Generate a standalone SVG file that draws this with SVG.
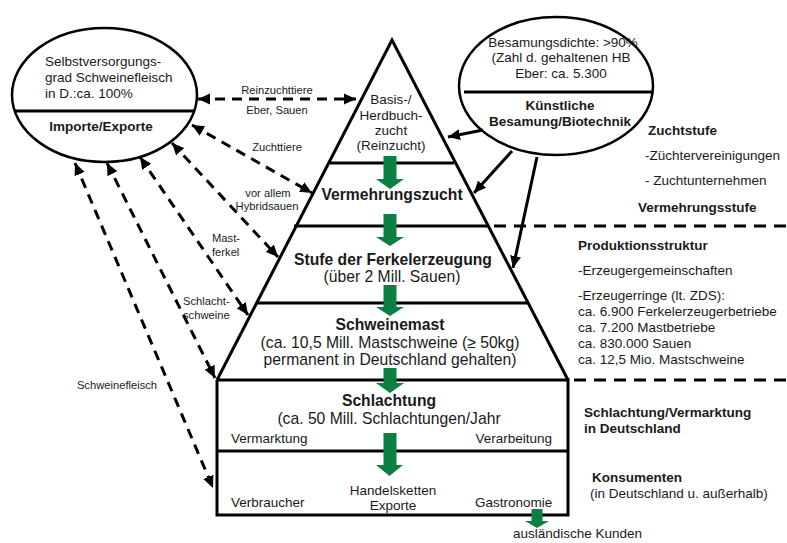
<svg xmlns="http://www.w3.org/2000/svg" width="787" height="543" viewBox="0 0 787 543">
<style>
text{font-family:"Liberation Sans",Arial,sans-serif;fill:#1a1a1a}
.m{font-size:15.7px}
.mb{font-size:15.7px;font-weight:bold}
.s{font-size:13.5px}
.sb{font-size:13.5px;font-weight:bold}
.xs{font-size:11.2px}
.c{text-anchor:middle}
.ln{stroke:#000;stroke-width:3;fill:none}
.el{stroke:#000;stroke-width:2.5;fill:#fff}
.dash{stroke:#000;stroke-width:3;fill:none;stroke-dasharray:10 7}
.sep{stroke:#000;stroke-width:3;fill:none;stroke-dasharray:12 8}
.sol{stroke:#000;stroke-width:3;fill:none}
.g{fill:#0a8043}
</style>
<defs>
<marker id="ah" markerUnits="userSpaceOnUse" markerWidth="14" markerHeight="14" viewBox="0 0 14 14" refX="12" refY="7" orient="auto-start-reverse">
<path d="M0,1.5 L12,7 L0,12.5 Z" fill="#000"/>
</marker>
</defs>
<rect width="787" height="543" fill="#fff"/>

<g id="pyramid">
<polyline class="ln" points="217,380 392,40 568,380"/>
<line class="ln" x1="330" y1="163" x2="454" y2="163"/>
<line class="ln" x1="294" y1="226" x2="489" y2="226"/>
<line class="ln" x1="256" y1="303" x2="528" y2="303"/>
<polyline class="ln" points="217,380 217,515 568,515 568,380 217,380"/>
<line class="ln" x1="217" y1="451" x2="568" y2="451"/>
</g>

<g id="separators">
<line class="sep" x1="494" y1="226" x2="787" y2="226"/>
<line class="sep" x1="574" y1="380" x2="787" y2="380"/>
</g>

<g id="green-arrows">
<polygon class="g" points="383.5,156 396.5,156 396.5,179 404,179 390,189 376,179 383.5,179"/>
<polygon class="g" points="383.5,214 396.5,214 396.5,237 404,237 390,246 376,237 383.5,237"/>
<polygon class="g" points="383.5,285 396.5,285 396.5,307 404,307 390,316 376,307 383.5,307"/>
<polygon class="g" points="383.5,368 396.5,368 396.5,383 404,383 390,393 376,383 383.5,383"/>
<polygon class="g" points="383.5,433 396.5,433 396.5,465 403,465 389.5,476 376,465 383.5,465"/>
<polygon class="g" points="531.5,509 542.5,509 542.5,521 549,521 537,528 525,521 531.5,521"/>
</g>

<g id="node-selbstversorgung">
<ellipse class="el" cx="104.5" cy="95" rx="92.5" ry="67"/>
<line class="sol" x1="15" y1="111" x2="194" y2="111" stroke-width="2.5"/>
<text class="s" x="45" y="66">Selbstversorgungs-</text>
<text class="s" x="45" y="82">grad Schweinefleisch</text>
<text class="s" x="45" y="98">in D.:ca. 100%</text>
<text class="sb c" x="101" y="131">Importe/Exporte</text>
</g>

<g id="node-besamung">
<ellipse class="el" cx="556" cy="86" rx="97" ry="69"/>
<line class="sol" x1="464" y1="92" x2="652" y2="92" stroke-width="2.5"/>
<text class="s c" x="563" y="47">Besamungsdichte: &gt;90%</text>
<text class="s c" x="561" y="62">(Zahl d. gehaltenen HB</text>
<text class="s c" x="561" y="78">Eber: ca. 5.300</text>
<text class="sb c" x="560" y="110">Künstliche</text>
<text class="sb c" x="560" y="126">Besamung/Biotechnik</text>
</g>

<g id="pyramid-texts">
<text class="s c" x="391" y="104">Basis-/</text>
<text class="s c" x="391" y="120">Herdbuch-</text>
<text class="s c" x="391" y="135">zucht</text>
<text class="s c" x="391" y="150">(Reinzucht)</text>
<text class="mb c" x="392" y="200">Vermehrungszucht</text>
<text class="mb c" x="393" y="265">Stufe der Ferkelerzeugung</text>
<text class="m c" x="392" y="282">(über 2 Mill. Sauen)</text>
<text class="mb c" x="390" y="330">Schweinemast</text>
<text class="m c" x="390" y="348">(ca. 10,5 Mill. Mastschweine (≥ 50kg)</text>
<text class="m c" x="390" y="365">permanent in Deutschland gehalten)</text>
<text class="mb c" x="389" y="406">Schlachtung</text>
<text class="m c" x="389" y="424">(ca. 50 Mill. Schlachtungen/Jahr</text>
<text class="s" x="231" y="443">Vermarktung</text>
<text class="s" x="552" y="443" text-anchor="end">Verarbeitung</text>
<text class="s" x="231" y="507">Verbraucher</text>
<text class="s c" x="393" y="495">Handelsketten</text>
<text class="s c" x="393" y="510">Exporte</text>
<text class="s" x="475" y="507">Gastronomie</text>
<text class="s" x="513" y="538">ausländische Kunden</text>
</g>

<g id="side-texts">
<text class="sb" x="648" y="135">Zuchtstufe</text>
<text class="s" x="645" y="160">-Züchtervereinigungen</text>
<text class="s" x="645" y="185">- Zuchtunternehmen</text>
<text class="sb" x="638" y="212">Vermehrungsstufe</text>
<text class="sb" x="578" y="250">Produktionsstruktur</text>
<text class="s" x="578" y="275">-Erzeugergemeinschaften</text>
<text class="s" x="578" y="300">-Erzeugerringe (lt. ZDS):</text>
<text class="s" x="578" y="316">ca. 6.900 Ferkelerzeugerbetriebe</text>
<text class="s" x="578" y="332">ca. 7.200 Mastbetriebe</text>
<text class="s" x="578" y="348">ca. 830.000 Sauen</text>
<text class="s" x="578" y="364">ca. 12,5 Mio. Mastschweine</text>
<text class="sb" x="584" y="417">Schlachtung/Vermarktung</text>
<text class="sb" x="584" y="433">in Deutschland</text>
<text class="sb" x="592" y="482">Konsumenten</text>
<text class="s" x="590" y="498">(in Deutschland u. außerhalb)</text>
</g>

<g id="connectors">
<line class="dash" x1="198" y1="99" x2="356" y2="99" marker-start="url(#ah)" marker-end="url(#ah)"/>
<line class="dash" x1="192" y1="125" x2="312" y2="193" marker-start="url(#ah)" marker-end="url(#ah)"/>
<line class="dash" x1="172" y1="143" x2="278" y2="257" marker-start="url(#ah)" marker-end="url(#ah)"/>
<line class="dash" x1="140" y1="157" x2="248" y2="315" marker-start="url(#ah)" marker-end="url(#ah)"/>
<line class="dash" x1="107" y1="163" x2="215" y2="378" marker-start="url(#ah)" marker-end="url(#ah)"/>
<line class="dash" x1="75" y1="163" x2="213" y2="488" marker-start="url(#ah)" marker-end="url(#ah)"/>
<line class="sol" x1="483" y1="130" x2="448" y2="137" marker-end="url(#ah)"/>
<line class="sol" x1="512" y1="151" x2="474" y2="193" marker-end="url(#ah)"/>
<line class="sol" x1="537" y1="157" x2="513" y2="268" marker-end="url(#ah)"/>
</g>

<g id="connector-labels">
<text class="xs c" x="277" y="94">Reinzuchttiere</text>
<text class="xs c" x="277" y="114">Eber, Sauen</text>
<text class="xs c" x="277" y="151">Zuchttiere</text>
<text class="xs c" x="268" y="197">vor allem</text>
<text class="xs c" x="267" y="210">Hybridsauen</text>
<text class="xs" x="212" y="242">Mast-</text>
<text class="xs" x="212" y="256">ferkel</text>
<text class="xs" x="183" y="305">Schlacht-</text>
<text class="xs" x="183" y="319">schweine</text>
<text class="xs c" x="117" y="389">Schweinefleisch</text>
</g>
</svg>
